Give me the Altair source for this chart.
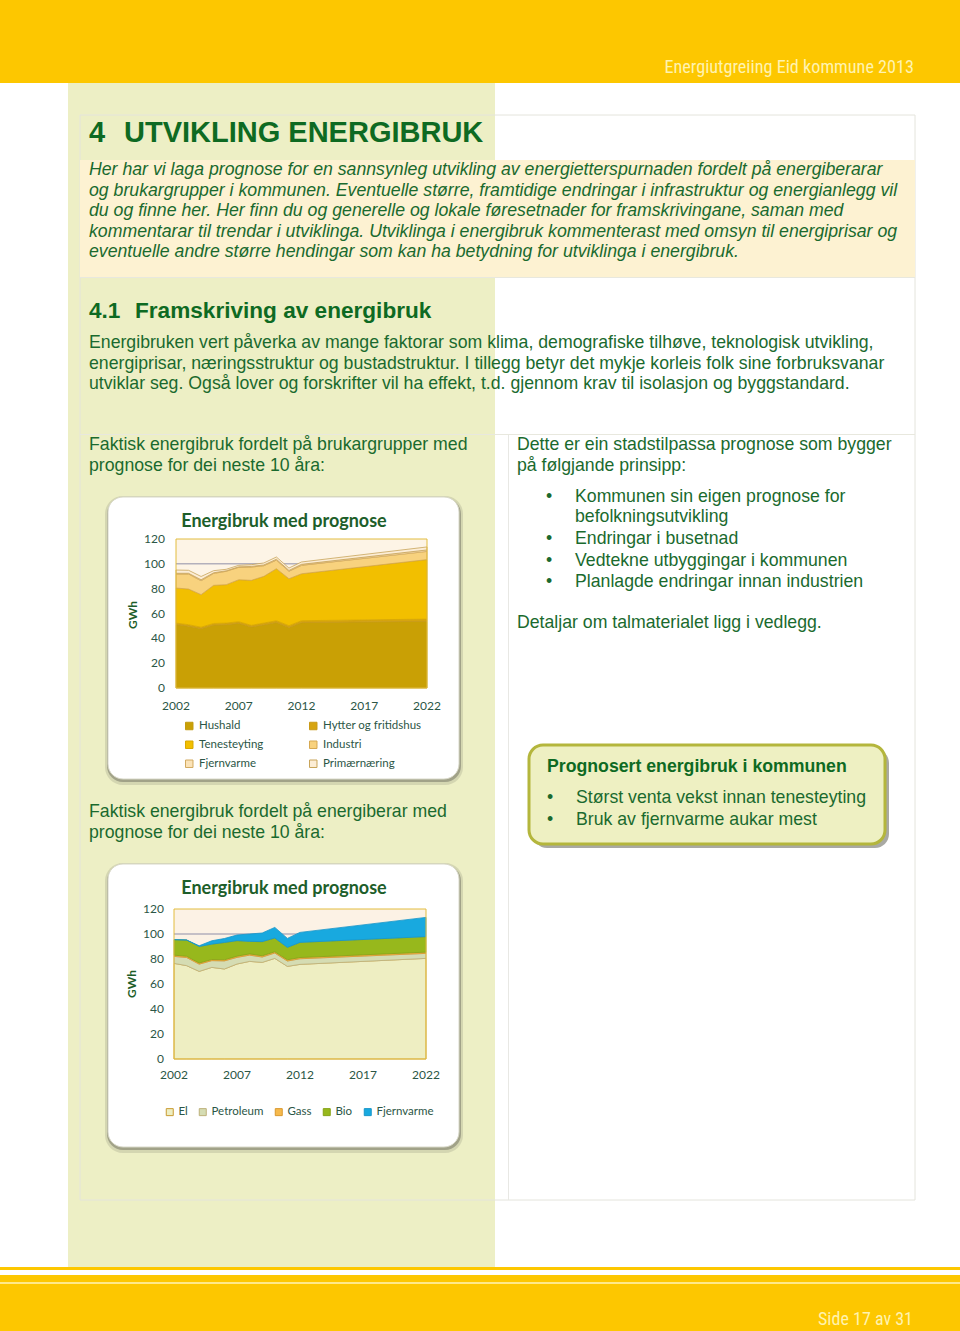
import altair as alt
import pandas as pd

# ---------------- data ----------------
YEARS = [2002, 2003, 2004, 2005, 2006, 2007, 2008, 2009, 2010, 2011, 2012, 2022]

GROUPS = ["Hushald", "Hytter og fritidshus", "Tenesteyting", "Industri", "Fjernvarme", "Primærnæring"]
HUSHALD = [51.1, 49.8, 47.8, 50.7, 51.0, 52.1, 49.2, 50.9, 52.8, 48.8, 52.7, 53.7]
HYTTER = [1.2, 1.2, 1.2, 1.3, 1.3, 1.3, 1.3, 1.4, 1.4, 1.4, 1.5, 1.8]
TENESTEYTING = [28.2, 28.7, 26.2, 30.7, 30.9, 33.8, 36.2, 37.6, 41.9, 37.8, 37.8, 47.9]
INDUSTRI = [11.3, 12.1, 11.2, 9.6, 10.8, 10.0, 10.7, 8.6, 6.9, 6.0, 6.8, 6.6]
FJERNVARME_G = [0.6, 0.6, 0.8, 0.5, 0.4, 0.4, 0.5, 0.6, 0.7, 0.7, 0.8, 1.2]
PRIMAER = [2.6, 2.4, 2.6, 1.7, 1.2, 1.2, 1.4, 1.6, 1.8, 1.9, 1.9, 2.4]
# legend reading order (two columns, filled column by column)
GROUP_LEGEND = ["Hushald", "Tenesteyting", "Fjernvarme", "Hytter og fritidshus", "Industri", "Primærnæring"]

CARRIERS = ["El", "Petroleum", "Gass", "Bio", "Fjernvarme"]
EL = [76.5, 74.7, 70.1, 73.3, 72.0, 76.0, 78.1, 77.3, 80.5, 74.1, 75.7, 80.5]
PETROLEUM = [5.6, 6.5, 5.8, 5.4, 6.5, 5.3, 5.0, 4.3, 4.3, 4.3, 4.5, 4.0]
GASS = [1.0, 1.0, 0.9, 0.9, 0.9, 1.0, 1.0, 1.0, 1.0, 1.0, 1.0, 1.0]
BIO = [12.4, 13.0, 13.2, 12.3, 13.8, 12.4, 10.0, 11.3, 11.0, 9.9, 12.1, 12.4]
FJERNVARME_E = [0.0, 0.0, 0.6, 2.7, 3.2, 4.5, 5.9, 6.9, 8.5, 7.2, 8.0, 15.4]

Y_TICKS = [0, 20, 40, 60, 80, 100, 120]
X_TICKS = [2002, 2007, 2012, 2017, 2022]

GROUP_FILLS = ["#C9A005", "#D6A410", "#F2BF00", "#F8D27E", "#FBE3B8", "#FCEDD6"]
GROUP_STROKES = ["#C29A10", "#C99A18", "#D9A800", "#D6A850", "#D2AA60", "#C8A45A"]
CARRIER_FILLS = ["#EEEEC2", "#D5DCB3", "#F6B94C", "#97B81C", "#18A9DF"]
CARRIER_STROKES = ["#C89B32", "#BDB07A", "#D9982E", "#86A316", "#1796C9"]


def long_table(names, series):
    rows = []
    for k, (name, vals) in enumerate(zip(names, series)):
        for yr, v in zip(YEARS, vals):
            rows.append({"year": yr, "value": v, "series": name, "k": k})
    return pd.DataFrame(rows)


df1 = long_table(GROUPS, [HUSHALD, HYTTER, TENESTEYTING, INDUSTRI, FJERNVARME_G, PRIMAER])
df2 = long_table(CARRIERS, [EL, PETROLEUM, GASS, BIO, FJERNVARME_E])

# ---------------- styles ----------------
ONE = pd.DataFrame({"a": [0]})
BODY = "Liberation Sans, Arial, sans-serif"
NARROW = "Liberation Sans Narrow, Roboto Condensed, Liberation Sans"
CHARTF = "Lato, Open Sans, sans-serif"
GREEN = "#1A6A2E"
HEAD = "#0E6A22"
TICK = "#2C5646"
GOLD = "#FDC700"
FS = 17.7


def rect(x, x2, y, y2, **kw):
    return alt.Chart(ONE).mark_rect(**kw).encode(
        x=alt.value(x), x2=alt.value(x2), y=alt.value(y), y2=alt.value(y2))


def text(s, x, y, size=FS, color=GREEN, font=BODY, align="left", **kw):
    return alt.Chart(ONE).mark_text(
        text=s, font=font, fontSize=size, color=color, align=align, baseline="middle", **kw
    ).encode(x=alt.value(x), y=alt.value(y))


layers = []
# header / footer bands
layers.append(rect(0, 960, 0, 83, fill=GOLD))
layers.append(text("Energiutgreiing Eid kommune 2013", 914, 68, size=18.2, color="#FFF3B0",
                   font=NARROW, align="right"))
layers.append(rect(68, 495, 83, 1267, fill="#EDEFC5"))
layers.append(rect(0, 960, 1267, 1270, fill=GOLD))
layers.append(rect(0, 960, 1275, 1282, fill=GOLD))
layers.append(rect(0, 960, 1282, 1284, fill="#FFE98A"))
layers.append(rect(0, 960, 1284, 1331, fill=GOLD))
layers.append(text("Side 17 av 31", 913, 1320, size=18, color="#FFF3B0", font=NARROW, align="right"))

# table frame
layers.append(rect(80, 915, 115, 1200, fillOpacity=0, stroke="#E4E4DC", strokeWidth=1))
layers.append(rect(80, 915, 160, 277, fill="#FDF2D2"))
layers.append(rect(80, 915, 277, 278, fill="#E8E8DE"))
layers.append(rect(80, 915, 434, 435, fill="#E8E8DE"))
layers.append(rect(508, 509, 435, 1200, fill="#E8E8E4"))

# headings and text
layers.append(text("4", 89, 133, size=29, color=HEAD, fontWeight="bold"))
layers.append(text("UTVIKLING ENERGIBRUK", 124, 133, size=29, color=HEAD, fontWeight="bold"))
INTRO = [
    "Her har vi laga prognose for en sannsynleg utvikling av energietterspurnaden fordelt på energiberarar",
    "og brukargrupper i kommunen. Eventuelle større, framtidige endringar i infrastruktur og energianlegg vil",
    "du og finne her. Her finn du og generelle og lokale føresetnader for framskrivingane, saman med",
    "kommentarar til trendar i utviklinga. Utviklinga i energibruk kommenterast med omsyn til energiprisar og",
    "eventuelle andre større hendingar som kan ha betydning for utviklinga i energibruk.",
]
for i, s in enumerate(INTRO):
    layers.append(text(s, 89, 170 + i * 20.5, fontStyle="italic"))

layers.append(text("4.1", 89, 311, size=22.6, color=HEAD, fontWeight="bold"))
layers.append(text("Framskriving av energibruk", 135, 311, size=22.6, color=HEAD, fontWeight="bold"))
BODYTXT = [
    "Energibruken vert påverka av mange faktorar som klima, demografiske tilhøve, teknologisk utvikling,",
    "energiprisar, næringsstruktur og bustadstruktur. I tillegg betyr det mykje korleis folk sine forbruksvanar",
    "utviklar seg. Også lover og forskrifter vil ha effekt, t.d. gjennom krav til isolasjon og byggstandard.",
]
for i, s in enumerate(BODYTXT):
    layers.append(text(s, 89, 343 + i * 20.5))

layers.append(text("Faktisk energibruk fordelt på brukargrupper med", 89, 445))
layers.append(text("prognose for dei neste 10 åra:", 89, 466))
layers.append(text("Faktisk energibruk fordelt på energiberar med", 89, 812))
layers.append(text("prognose for dei neste 10 åra:", 89, 833))

layers.append(text("Dette er ein stadstilpassa prognose som bygger", 517, 445))
layers.append(text("på følgjande prinsipp:", 517, 466))
BULLETS = [("Kommunen sin eigen prognose for", 497), ("befolkningsutvikling", 517),
           ("Endringar i busetnad", 539), ("Vedtekne utbyggingar i kommunen", 561),
           ("Planlagde endringar innan industrien", 582)]
for s, y in BULLETS:
    layers.append(text(s, 575, y))
for y in [497, 539, 561, 582]:
    layers.append(text("•", 546, y))
layers.append(text("Detaljar om talmaterialet ligg i vedlegg.", 517, 623))

# callout box
layers.append(rect(533, 889, 749, 848, fill="#8C8C84", opacity=0.75, cornerRadius=14))
layers.append(rect(529, 885, 745, 844, fill="#EEF0C2", stroke="#B4B63C", strokeWidth=3, cornerRadius=14))
layers.append(text("Prognosert energibruk i kommunen", 547, 767, color=HEAD, fontWeight="bold"))
layers.append(text("•", 547, 798))
layers.append(text("•", 547, 820))
layers.append(text("Størst venta vekst innan tenesteyting", 576, 798))
layers.append(text("Bruk av fjernvarme aukar mest", 576, 820))


# chart boxes
def chart_box(x, x2, y, y2):
    return [
        rect(x - 3, x2 + 4, y - 1, y2 + 6, fill="#8A8A78", opacity=0.25, cornerRadius=18),
        rect(x - 1, x2 + 2, y + 1, y2 + 3, fill="#6E6E60", opacity=0.5, cornerRadius=16),
        rect(x, x2, y, y2, fill="white", stroke="#D8D8C8", strokeWidth=1, cornerRadius=15),
    ]


layers += chart_box(108, 459, 497, 779)
layers += chart_box(108, 459, 864, 1147)
layers.append(text("Energibruk med prognose", 284, 522, size=18, color="#1D5E2A", font=CHARTF,
                   align="center", fontWeight="bold"))
layers.append(text("Energibruk med prognose", 284, 889, size=18, color="#1D5E2A", font=CHARTF,
                   align="center", fontWeight="bold"))
layers.append(text("GWh", 133, 615, size=12, color="#1D5E2A", font=CHARTF, align="center",
                   fontWeight="bold", angle=270))
layers.append(text("GWh", 132, 984, size=12, color="#1D5E2A", font=CHARTF, align="center",
                   fontWeight="bold", angle=270))


def area_panel(df, names, fills, strokes, xr, yr, bgfill, ylab_x, xlab_y, legend):
    sx = alt.Scale(domain=[2002, 2022], range=xr, nice=False, zero=False)
    sy = alt.Scale(domain=[0, 120], range=yr, nice=False, zero=False)
    bg = alt.Chart(ONE).mark_rect(fill=bgfill).encode(
        x=alt.XDatum(2002, type="quantitative", scale=sx, axis=None), x2=alt.X2Datum(2022),
        y=alt.YDatum(0, type="quantitative", scale=sy, axis=None), y2=alt.Y2Datum(120))
    rule = alt.Chart(ONE).mark_rule(color="#8E8EA8", strokeWidth=1).encode(
        x=alt.XDatum(2002, type="quantitative", scale=sx, axis=None), x2=alt.X2Datum(2022),
        y=alt.YDatum(100, type="quantitative", scale=sy, axis=None))
    area = alt.Chart(df).mark_area(strokeWidth=0.8, opacity=1).encode(
        x=alt.X("year:Q", scale=sx, axis=None),
        y=alt.Y("value:Q", stack="zero", scale=sy, axis=None),
        color=alt.Color("series:N", scale=alt.Scale(domain=names, range=fills), legend=legend),
        stroke=alt.Stroke("series:N", scale=alt.Scale(domain=names, range=strokes), legend=None),
        order=alt.Order("k:Q"),
    )
    border = alt.Chart(ONE).mark_rect(fillOpacity=0, stroke="#E2BC3E", strokeWidth=1).encode(
        x=alt.XDatum(2002, type="quantitative", scale=sx, axis=None), x2=alt.X2Datum(2022),
        y=alt.YDatum(0, type="quantitative", scale=sy, axis=None), y2=alt.Y2Datum(120))
    yt = alt.Chart(pd.DataFrame({"v": Y_TICKS})).mark_text(
        align="right", baseline="middle", font=CHARTF, fontSize=12, color=TICK).encode(
        x=alt.value(ylab_x), y=alt.Y("v:Q", scale=sy, axis=None), text=alt.Text("v:Q", format="d"))
    xt = alt.Chart(pd.DataFrame({"v": X_TICKS})).mark_text(
        align="center", baseline="middle", font=CHARTF, fontSize=12, color=TICK).encode(
        x=alt.X("v:Q", scale=sx, axis=None), y=alt.value(xlab_y), text=alt.Text("v:Q", format="d"))
    return alt.layer(bg, rule, area, border, yt, xt)


leg1 = alt.Legend(orient="none", legendX=183.5, legendY=720, columns=2, title=None,
                  values=GROUP_LEGEND,
                  symbolType="square", symbolSize=56, symbolStrokeColor="#C9A24A", symbolStrokeWidth=1,
                  labelFont=CHARTF, labelFontSize=11.5, labelColor="#2C5646", labelOffset=4,
                  rowPadding=6, columnPadding=44, padding=0)
leg2 = alt.Legend(orient="none", direction="horizontal", legendX=164, legendY=1106, title=None,
                  symbolType="square", symbolSize=49, symbolStrokeColor="#C9A24A", symbolStrokeWidth=1,
                  labelFont=CHARTF, labelFontSize=11.5, labelColor="#2C5646", labelOffset=3,
                  columnPadding=9, padding=0)

panel1 = area_panel(df1, GROUPS, GROUP_FILLS, GROUP_STROKES, [176, 427], [688, 539], "#FDF4E6", 165, 706, leg1)
panel2 = area_panel(df2, CARRIERS, CARRIER_FILLS, CARRIER_STROKES, [174, 426], [1059, 909], "#FCF2E5", 164, 1075, leg2)

decor = alt.layer(*layers)

chart = alt.layer(decor, panel1, panel2).resolve_scale(
    x="independent", y="independent", color="independent", stroke="independent"
).properties(
    width=960, height=1331, padding=0, autosize="none", background="white"
).configure_view(strokeWidth=0)

chart.save("out.html", embed_options={"renderer": "svg", "actions": False})
